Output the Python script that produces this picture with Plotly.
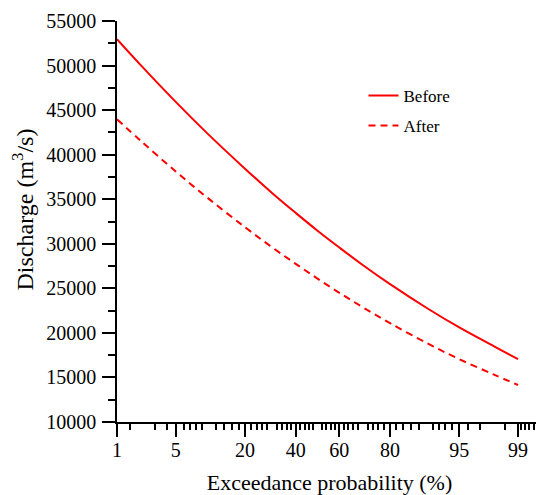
import plotly.graph_objects as go
from statistics import NormalDist

# ---- data ----
prob = [1, 2, 5, 10, 20, 30, 40, 50, 60, 70, 80, 90, 95, 98, 99]
before = [52950, 50070, 45920, 42420, 38430, 35680, 33470, 31470, 29580,
          27620, 25470, 22710, 20610, 18460, 17050]
after = [43970, 41580, 38110, 35200, 31860, 29590, 27750, 26090, 24500,
         22880, 21090, 18790, 17050, 15290, 14150]

labeled_ticks = [1, 5, 20, 40, 60, 80, 95, 99]
unlabeled_major = [2, 10, 30, 50, 70, 90, 98]
minor_ticks = ([1.5, 3, 4, 6, 7, 8, 9]
               + [p for p in range(12, 90, 2) if p % 10 != 0]
               + [91, 92, 93, 94, 96, 97, 98.5, 99.1, 99.2, 99.3, 99.4, 99.5])
y_ticks = list(range(10000, 55001, 5000))

nd = NormalDist()


def z(p):
    return nd.inv_cdf(p / 100.0)


FONT = "Liberation Serif"
RED = "#ff0000"
XRANGE = [z(1), z(99.54)]

# the page body has an 8px default margin; size the figure so it fills
# exactly the 544x495 window
PAGE_PAD = 8

fig = go.Figure()
fig.add_trace(go.Scatter(
    x=[z(p) for p in prob], y=before, mode="lines", name="Before",
    legendgroup="b",
    line=dict(color=RED, width=2, shape="spline"),
))
fig.add_trace(go.Scatter(
    x=[z(p) for p in prob], y=after, mode="lines", name="After",
    legendgroup="a",
    line=dict(color=RED, width=2, dash="7px,5px", shape="spline"),
))

fig.update_layout(
    xaxis=dict(
        range=XRANGE, automargin=False,
        tickmode="array",
        tickvals=[z(p) for p in labeled_ticks],
        ticktext=[str(p) for p in labeled_ticks],
        ticks="outside", ticklen=13, tickwidth=1.5, tickcolor="black",
        ticklabelstandoff=-4,
        showline=True, linecolor="black", linewidth=1.5,
        showgrid=False, zeroline=False,
        tickfont=dict(family=FONT, size=20, color="black"),
        minor=dict(tickmode="array", tickvals=[z(p) for p in minor_ticks],
                   ticks="outside", ticklen=6, tickwidth=1.5,
                   tickcolor="black", showgrid=False),
        title=dict(text="Exceedance probability (%)",
                   font=dict(family=FONT, size=22, color="black"),
                   standoff=16),
    ),
    xaxis2=dict(
        range=XRANGE, overlaying="x", anchor="y", side="bottom",
        automargin=False, matches="x",
        tickmode="array", tickvals=[z(p) for p in unlabeled_major],
        showticklabels=False,
        ticks="outside", ticklen=13, tickwidth=1.5, tickcolor="black",
        showline=False, showgrid=False, zeroline=False,
    ),
    yaxis=dict(
        range=[10000, 55000], automargin=False,
        tickmode="array",
        tickvals=y_ticks,
        ticktext=[str(v) for v in y_ticks],
        ticks="outside", ticklen=13, tickwidth=1.5, tickcolor="black",
        ticklabelstandoff=2,
        showline=True, linecolor="black", linewidth=1.5,
        showgrid=False, zeroline=False,
        tickfont=dict(family=FONT, size=20, color="black"),
        minor=dict(dtick=2500, tick0=10000, ticks="outside", ticklen=7,
                   tickwidth=1.5, tickcolor="black", showgrid=False),
    ),
    annotations=[dict(
        text="Discharge (m<sup>3</sup>/s)", textangle=-90,
        xref="paper", yref="paper", x=0, y=0.53,
        xanchor="center", yanchor="middle", xshift=-94, borderpad=0,
        showarrow=False, font=dict(family=FONT, size=24, color="black"),
    )],
    width=544 - PAGE_PAD, height=495 - PAGE_PAD,
    margin=dict(l=117 - PAGE_PAD, r=2, t=21 - PAGE_PAD, b=73),
    paper_bgcolor="white", plot_bgcolor="white",
    showlegend=True,
    legend=dict(x=0.58, y=0.858, xanchor="left", yanchor="top",
                bgcolor="rgba(0,0,0,0)", borderwidth=0,
                tracegroupgap=5,
                font=dict(family=FONT, size=17, color="black")),
)

fig.write_html("out.html")
